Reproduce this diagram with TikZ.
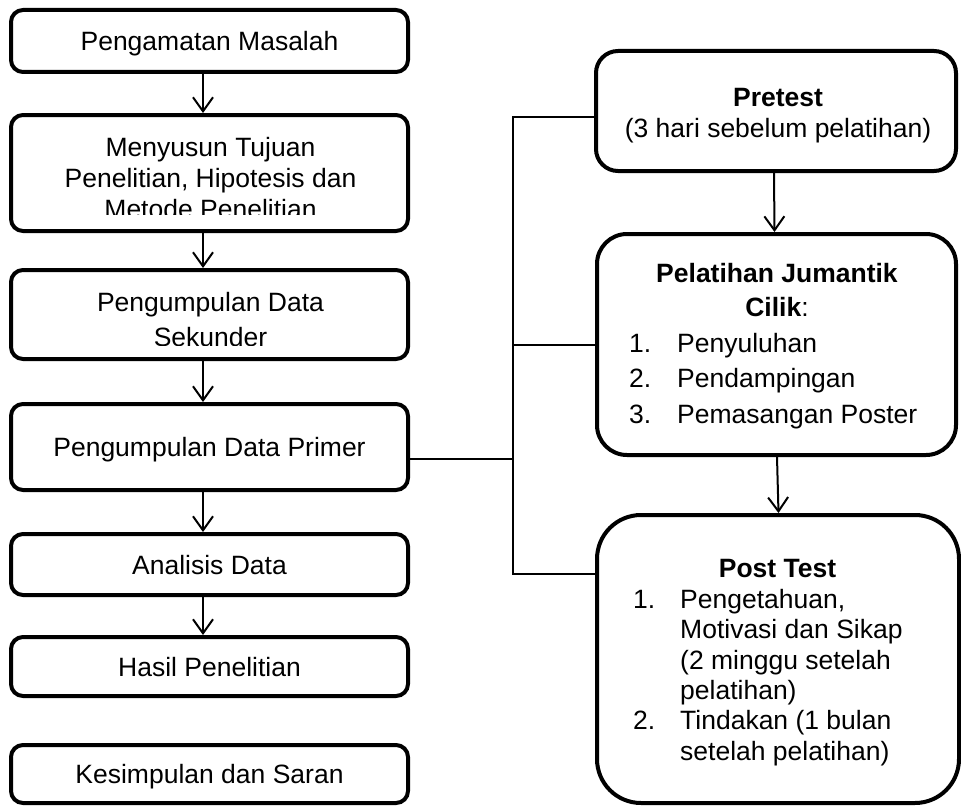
\documentclass[tikz,border=0pt]{standalone}
\usepackage{fontspec}
\setmainfont{Liberation Sans}
\usetikzlibrary{arrows.meta}
\begin{document}
\begin{tikzpicture}[x=1pt,y=-1pt,
  every node/.style={font=\fontsize{26.5}{31}\selectfont, inner sep=0pt},
  box/.style={draw, line width=4pt, rounded corners=12pt, minimum width=397pt},
  onetext/.style={text height=19pt, text depth=0pt},
  rbox/.style={draw, line width=4pt, minimum width=360pt},
  conn/.style={line width=2pt},
  arr/.style={line width=2pt, -{Straight Barb[length=14pt,width=20pt,line width=2pt]}}]
\useasboundingbox (0,0) rectangle (961,808);

% left column
\node[box, onetext, minimum height=62pt] (b1) at (209.5,41) {Pengamatan Masalah};
\node[box, minimum height=116pt] (b2) at (209.5,173) {};
\node[box, minimum height=89pt] (b3) at (209.5,314.5) {};
\node[box, onetext, minimum height=86pt] (b4) at (209.5,447) {Pengumpulan Data Primer};
\node[box, onetext, minimum height=61pt] (b5) at (209.5,564.5) {Analisis Data};
\node[box, onetext, minimum height=59pt] (b6) at (209.5,666.5) {Hasil Penelitian};
\node[box, onetext, minimum height=58pt] (b7) at (209.5,774) {Kesimpulan dan Saran};

% multi-line texts: anchor=base is the baseline of the last line
\begin{scope}
\clip (9,113) rectangle (410,214.5);
\node[anchor=base, align=center] (t2) at (210.5,218.5)
  {Menyusun Tujuan\\Penelitian, Hipotesis dan\\Metode Penelitian};
\end{scope}
\begin{scope}
\clip (9,268) rectangle (410,345);
\node[anchor=base, align=center, font=\fontsize{26.5}{35}\selectfont] (t3) at (210.5,346.7)
  {Pengumpulan Data\\Sekunder};
\end{scope}

% right column
\node[rbox, rounded corners=22pt, minimum height=120pt] (pre) at (776,111) {};
\node[rbox, rounded corners=30pt, minimum width=359pt, minimum height=221pt] (pel) at (776.5,344.5) {};
\node[rbox, rounded corners=44pt, minimum width=362pt, minimum height=288pt] (post) at (778,659) {};

\node[anchor=base, align=center] (tpre) at (778,137)
  {\textbf{Pretest}\\(3 hari sebelum pelatihan)};
\node[anchor=base, align=center, font=\fontsize{26.5}{34}\selectfont] (tpel) at (777,316)
  {\textbf{Pelatihan Jumantik}\\\textbf{Cilik}:};
\node[anchor=base west, align=left, font=\fontsize{26.5}{35.5}\selectfont] (lpel) at (629,423)
  {\makebox[48pt][l]{1.}Penyuluhan\\\makebox[48pt][l]{2.}Pendampingan\\\makebox[48pt][l]{3.}Pemasangan Poster};
\node[anchor=base] (tpost) at (777.5,577) {\textbf{Post Test}};
\node[anchor=base west, align=left, font=\fontsize{26.5}{30.4}\selectfont] (lpost) at (633,760.3)
  {\makebox[47pt][l]{1.}Pengetahuan,\\\hspace*{47pt}Motivasi dan Sikap\\\hspace*{47pt}(2 minggu setelah\\\hspace*{47pt}pelatihan)\\\makebox[47pt][l]{2.}Tindakan (1 bulan\\\hspace*{47pt}setelah pelatihan)};

% arrows
\draw[arr] ([xshift=-6.5pt]b1.south) -- ([xshift=-6.5pt]b2.north);
\draw[arr] ([xshift=-6.5pt]b2.south) -- ([xshift=-6.5pt]b3.north);
\draw[arr] ([xshift=-6.5pt]b3.south) -- ([xshift=-6.5pt]b4.north);
\draw[arr] ([xshift=-6.5pt]b4.south) -- ([xshift=-6.5pt]b5.north);
\draw[arr] ([xshift=-6.5pt]b5.south) -- ([xshift=-6.5pt]b6.north);
\draw[arr] ([xshift=-2pt]pre.south) -- ([xshift=-2pt]pel.north);
\draw[arr] ([xshift=0.5pt]pel.south) -- ([xshift=0.5pt]post.north);

% bus connector
\coordinate (jt) at (513,117);
\coordinate (jm) at (513,459);
\coordinate (jb) at (513,574);
\draw[conn] (jt -| pre.west) -- (jt) -- (jb) -- (jb -| post.west);
\draw[conn] (pel.west) -- (pel.west -| jt);
\draw[conn] (jm -| b4.east) -- (jm);
\end{tikzpicture}
\end{document}
